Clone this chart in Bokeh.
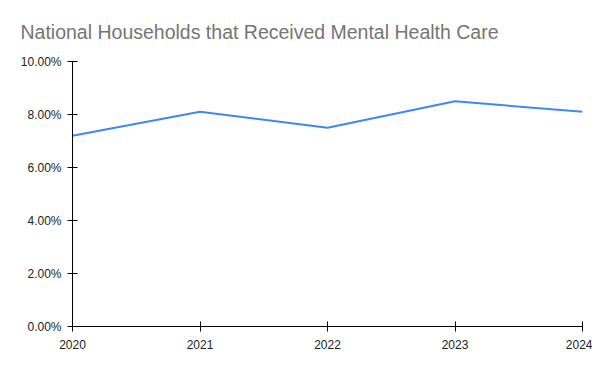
from bokeh.plotting import figure
from bokeh.models import Range1d, NumeralTickFormatter, FixedTicker, Title
from bokeh.embed import file_html
from bokeh.resources import INLINE

years = [2020, 2021, 2022, 2023, 2024]
share = [0.072, 0.081, 0.075, 0.085, 0.081]
y_ticks = [0.0, 0.02, 0.04, 0.06, 0.08, 0.10]
title_text = "National Households that Received Mental Health Care"

p = figure(width=592, height=363, output_backend="svg", toolbar_location=None,
           x_range=Range1d(2020, 2024), y_range=Range1d(0, 0.10),
           min_border_left=72, min_border_right=10, min_border_top=61, min_border_bottom=37)

p.title = Title(text=title_text, align="left", offset=-52, standoff=37,
                text_font="Liberation Sans", text_font_size="19.5px",
                text_font_style="normal", text_color="#757575")

p.line(years, share, line_color="#4285F4", line_width=2)

p.outline_line_color = None
p.xgrid.grid_line_color = None
p.ygrid.grid_line_color = None
p.background_fill_color = "white"
p.border_fill_color = "white"

for ax in (p.xaxis, p.yaxis):
    ax.axis_line_color = "black"
    ax.axis_line_width = 1
    ax.major_tick_line_color = "black"
    ax.major_tick_in = 5
    ax.major_tick_out = 5
    ax.minor_tick_line_color = None
    ax.major_label_text_font = "Liberation Sans"
    ax.major_label_text_font_size = "12px"
    ax.major_label_text_color = "#222222"

p.xaxis.ticker = FixedTicker(ticks=years)
p.xaxis.major_label_standoff = 8
p.yaxis.ticker = FixedTicker(ticks=y_ticks)
p.yaxis.formatter = NumeralTickFormatter(format="0.00%")
p.yaxis.major_label_standoff = 6

open("out.html", "w").write(file_html(p, INLINE))
